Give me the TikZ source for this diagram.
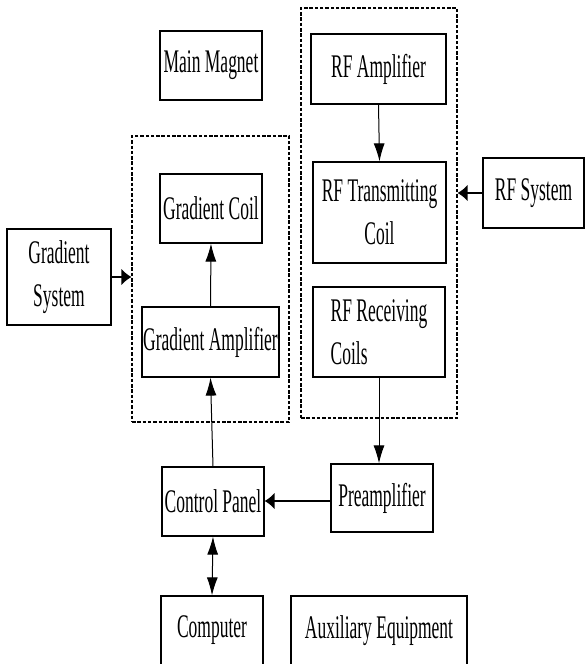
\documentclass[tikz,border=0pt]{standalone}
\usepackage{fontspec}
\setmainfont{Liberation Serif}[FakeStretch=0.53]
\usetikzlibrary{arrows.meta,positioning}

\begin{document}
\begin{tikzpicture}[x=1pt,y=-1pt,
    block/.style={draw, line width=1.2pt, inner sep=0pt, minimum height=69pt,
      font=\fontsize{33}{43}\selectfont, align=center},
    group/.style={draw, dash pattern=on 3.5pt off 1.8pt, line width=1.1pt, inner sep=0pt},
    link/.style={line width=1pt, -{Latex[length=18pt,width=11pt]}},
    heavy/.style={line width=2pt, -{Latex[length=10pt,width=17pt]}}]
  \useasboundingbox (0,0) rectangle (585,664);

  % gradient side
  \node [group, minimum width=157pt, minimum height=286pt] (gbox) at (210.5,279) {};
  \node [block, minimum width=102pt] (magnet) at (211,65.5) {Main Magnet};
  \node [block, minimum width=102pt] (gcoil) at (211,208.5) {Gradient Coil};
  \node [block, minimum width=137pt, minimum height=70pt] (gamp) at (210.5,342) {Gradient Amplifier};
  \node [block, minimum width=104pt, minimum height=96pt] (gsys) at (59,277) {Gradient\\System};

  % rf side
  \node [group, minimum width=156pt, minimum height=410pt] (rfbox) at (379,213) {};
  \node [block, minimum width=135pt, minimum height=70pt] (rfamp) at (378.5,69) {RF Amplifier};
  \node [block, minimum width=133pt, minimum height=101pt] (rftx) at (379.5,212.5) {RF Transmitting\\Coil};
  \node [block, minimum width=132pt, minimum height=90pt, align=left] (rfrx) at (379,332) {RF Receiving\\Coils};
  \node [block, minimum width=101pt, minimum height=70pt] (rfsys) at (533.5,193) {RF System};

  % bottom row
  \node [block, minimum width=102pt, minimum height=68pt] (pre) at (382,498) {Preamplifier};
  \node [block, minimum width=102pt] (panel) at (213,501.5) {Control Panel};
  \node [block, minimum width=102pt] (computer) at (212,630.5) {Computer};
  \node [block, minimum width=176pt] (aux) at (379,630.5) {Auxiliary Equipment};

  \draw [heavy] (gsys.east) -- (gsys.east -| gbox.west);
  \draw [heavy] (rfsys.west) -- (rfsys.west -| rfbox.east);
  \draw [link] (gamp.north) -- (gcoil.south);
  \draw [link] (panel.north) -- (gamp.south);
  \draw [link, {Latex[length=18pt,width=11pt]}-{Latex[length=18pt,width=11pt]}] (panel.south) -- (computer.north);
  \draw [link] (rfamp.south) -- (rftx.north);
  \draw [link] (rfrx.south) -- (rfrx.south |- pre.north);
  \draw [heavy] ([yshift=-3pt]pre.west) -- ([yshift=-3pt]pre.west -| panel.east);
\end{tikzpicture}
\end{document}
